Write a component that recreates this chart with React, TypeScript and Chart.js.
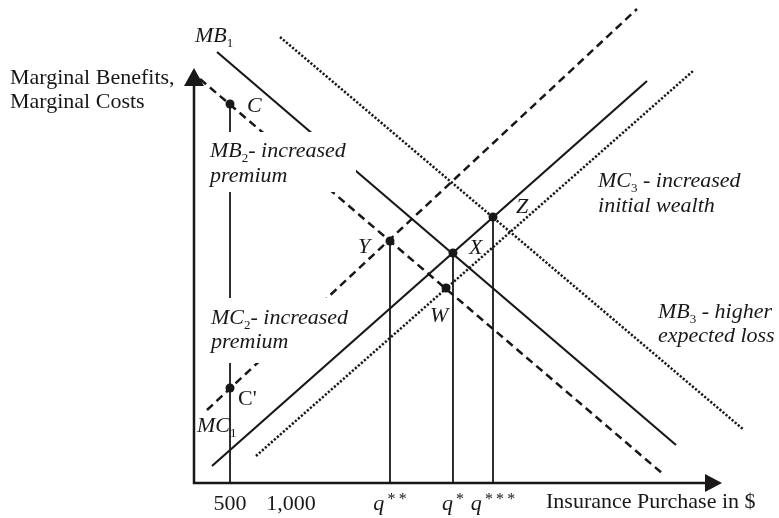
import React, { useEffect, useRef } from "react";
import { Chart, registerables } from "chart.js";
Chart.register(...registerables);

const INK = "#1a1718";
const FONT = '"Liberation Serif", "Times New Roman", serif';

// Curves (chart units, 0..100 on both axes)
const mb1 = [{ x: 4.36, y: 103.86 }, { x: 91.29, y: 9.16 }];
const mb2 = [{ x: 1.14, y: 97.35 }, { x: 88.83, y: 2.17 }];
const mb3 = [{ x: 16.29, y: 107.47 }, { x: 104.17, y: 12.77 }];
const mc1 = [{ x: 3.41, y: 4.1 }, { x: 85.8, y: 96.87 }];
const mc2 = [{ x: 2.46, y: 17.59 }, { x: 83.9, y: 114.22 }];
const mc3 = [{ x: 11.74, y: 6.51 }, { x: 94.51, y: 99.28 }];

// Marked points: C, C', Y, X, Z, W
const pointNames = ["C", "C'", "Y", "X", "Z", "W"];
const pointX = [6.82, 6.82, 37.12, 49.05, 56.63, 47.73];
const pointY = [91.33, 22.89, 58.31, 55.42, 64.1, 46.99];

// Drop lines from points to the quantity axis
const dropX = [6.82, 37.12, 49.05, 56.63];
const dropTop = [91.33, 58.31, 55.42, 64.1];

// Quantity-axis ticks
const tickValues = [6.82, 18.37, 37.12, 49.05, 56.63];
const tickLabels = ["500", "1,000", "q**", "q*", "q***"];

type Part = { t: string; i?: boolean; s?: boolean; sup?: boolean };
const annotations: { parts: Part[]; x: number; y: number }[] = [
  { parts: [{ t: "Marginal Benefits," }], x: -34.85, y: 96.14 },
  { parts: [{ t: "Marginal Costs" }], x: -34.85, y: 90.36 },
  { parts: [{ t: "MB", i: true }, { t: "1", s: true }], x: 0.19, y: 106.27 },
  { parts: [{ t: "C", i: true }], x: 10.04, y: 89.4 },
  { parts: [{ t: "MB", i: true }, { t: "2", s: true }, { t: "- increased", i: true }], x: 3.03, y: 78.55 },
  { parts: [{ t: "premium", i: true }], x: 3.03, y: 72.53 },
  { parts: [{ t: "Y", i: true }], x: 31.06, y: 55.42 },
  { parts: [{ t: "X", i: true }], x: 52.08, y: 55.18 },
  { parts: [{ t: "Z", i: true }], x: 60.98, y: 65.06 },
  { parts: [{ t: "W", i: true }], x: 44.7, y: 38.8 },
  { parts: [{ t: "MC", i: true }, { t: "3", s: true }, { t: " - increased", i: true }], x: 76.52, y: 71.33 },
  { parts: [{ t: "initial wealth", i: true }], x: 76.52, y: 65.3 },
  { parts: [{ t: "MB", i: true }, { t: "3", s: true }, { t: " - higher", i: true }], x: 87.88, y: 39.76 },
  { parts: [{ t: "expected loss", i: true }], x: 87.88, y: 33.98 },
  { parts: [{ t: "MC", i: true }, { t: "2", s: true }, { t: "- increased", i: true }], x: 3.22, y: 38.31 },
  { parts: [{ t: "premium", i: true }], x: 3.22, y: 32.53 },
  { parts: [{ t: "C'" }], x: 8.33, y: 18.8 },
  { parts: [{ t: "MC", i: true }, { t: "1", s: true }], x: 0.57, y: 12.29 },
  { parts: [{ t: "Insurance Purchase in $" }], x: 66.67, y: -6.02 },
];

// White areas behind the label blocks [x0, x1, y0, y1]
const maskBoxes = [
  [2.08, 30.68, 70.12, 84.58],
  [2.65, 29.92, 36.87, 44.58],
  [2.65, 20.08, 28.92, 36.87],
];

function partFont(p: Part) {
  const size = p.s ? 13 : p.sup ? 16 : 22;
  return `${p.i ? "italic " : ""}${size}px ${FONT}`;
}

function richWidth(ctx: CanvasRenderingContext2D, parts: Part[]) {
  let w = 0;
  for (const p of parts) {
    ctx.font = partFont(p);
    w += ctx.measureText(p.t).width;
  }
  return w;
}

function drawRich(ctx: CanvasRenderingContext2D, parts: Part[], px: number, py: number) {
  let cx = px;
  for (const p of parts) {
    ctx.font = partFont(p);
    const dy = p.s ? 5 : p.sup ? -6 : 0;
    ctx.fillText(p.t, cx, py + dy);
    cx += ctx.measureText(p.t).width;
  }
}

function tickParts(label: string): Part[] {
  if (label.startsWith("q")) {
    const stars = label.slice(1).split("").join("\u2009");
    return [{ t: "q", i: true }, { t: "\u2009" + stars, sup: true }];
  }
  return [{ t: label }];
}

const overlay = {
  id: "overlay",
  afterDatasetsDraw(chart: any) {
    const ctx: CanvasRenderingContext2D = chart.ctx;
    const xs = chart.scales.x;
    const ys = chart.scales.y;
    const X = (v: number) => xs.getPixelForValue(v);
    const Y = (v: number) => ys.getPixelForValue(v);
    ctx.save();
    // masks
    ctx.fillStyle = "#ffffff";
    for (const b of maskBoxes) {
      ctx.fillRect(X(b[0]), Y(b[3]), X(b[1]) - X(b[0]), Y(b[2]) - Y(b[3]));
    }
    // axes
    const x0 = X(0), y0 = Y(0), xTip = X(100), yTip = Y(100);
    ctx.strokeStyle = INK;
    ctx.fillStyle = INK;
    ctx.lineWidth = 2.5;
    ctx.beginPath();
    ctx.moveTo(x0, y0 + 1.2);
    ctx.lineTo(x0, yTip + 10);
    ctx.moveTo(x0 - 1.2, y0);
    ctx.lineTo(xTip - 10, y0);
    ctx.stroke();
    ctx.beginPath();
    ctx.moveTo(x0, yTip);
    ctx.lineTo(x0 - 10, yTip + 18);
    ctx.lineTo(x0 + 10, yTip + 18);
    ctx.closePath();
    ctx.fill();
    ctx.beginPath();
    ctx.moveTo(xTip, y0);
    ctx.lineTo(xTip - 17, y0 - 9);
    ctx.lineTo(xTip - 17, y0 + 9);
    ctx.closePath();
    ctx.fill();
    // text
    ctx.textBaseline = "alphabetic";
    ctx.textAlign = "left";
    for (const a of annotations) drawRich(ctx, a.parts, X(a.x), Y(a.y));
    for (let k = 0; k < tickValues.length; k++) {
      const parts = tickParts(tickLabels[k]);
      const w = richWidth(ctx, parts);
      drawRich(ctx, parts, X(tickValues[k]) - w / 2, Y(-6.51));
    }
    ctx.restore();
  },
};

function line(data: { x: number; y: number }[], dash: number[], width: number) {
  return {
    data,
    showLine: true,
    borderColor: INK,
    borderWidth: width,
    borderDash: dash,
    pointRadius: 0,
    pointHoverRadius: 0,
    clip: false as any,
  };
}

export default function App() {
  const ref = useRef<HTMLCanvasElement | null>(null);
  useEffect(() => {
    if (!ref.current) return;
    const drops = dropX.map((x, k) =>
      line([{ x, y: 0 }, { x, y: dropTop[k] }], [], 1.8)
    );
    const chart = new Chart(ref.current, {
      type: "scatter",
      data: {
        datasets: [
          line(mb1, [], 2.2),
          line(mb2, [8, 5], 2.5),
          line(mb3, [2.2, 1.8], 2.5),
          line(mc1, [], 2.2),
          line(mc2, [8, 5], 2.5),
          line(mc3, [2.2, 1.8], 2.5),
          ...drops,
          {
            data: pointX.map((x, k) => ({ x, y: pointY[k] })),
            label: pointNames.join(","),
            showLine: false,
            pointRadius: 4.5,
            pointBackgroundColor: INK,
            pointBorderColor: INK,
            pointBorderWidth: 0,
            clip: false as any,
          } as any,
        ],
      },
      options: {
        animation: false,
        responsive: false,
        events: [],
        layout: { padding: { left: 194, right: 57, top: 68, bottom: 35 } },
        scales: {
          x: { type: "linear", min: 0, max: 100, display: false },
          y: { type: "linear", min: 0, max: 100, display: false },
        },
        plugins: { legend: { display: false }, tooltip: { enabled: false } },
      },
      plugins: [overlay],
    });
    return () => chart.destroy();
  }, []);
  return (
    <div style={{ position: "fixed", left: 0, top: 0, width: 779, height: 518, background: "#fff" }}>
      <canvas ref={ref} width={779} height={518} style={{ display: "block" }} />
    </div>
  );
}
